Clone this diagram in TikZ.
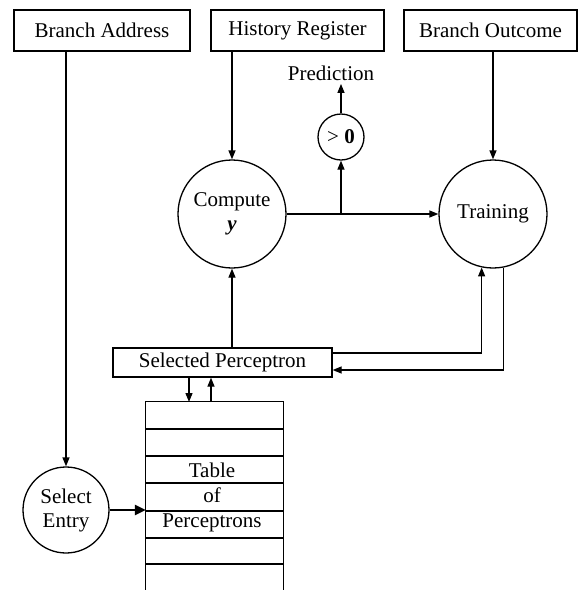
\documentclass[tikz,border=0pt]{standalone}
\usepackage{fontspec}
\setmainfont{Liberation Serif}
\usetikzlibrary{arrows.meta,calc}
\begin{document}
\begin{tikzpicture}[x=1pt,y=-1pt,
  every node/.style={font=\fontsize{21}{25}\selectfont},
  box/.style={draw,line width=1.3pt,rectangle,inner sep=0pt},
  circ/.style={draw,line width=1.3pt,circle,inner sep=0pt,align=center},
  conn/.style={line width=1.3pt},
  arr/.style={conn,-{Triangle[length=9pt,width=7pt]}},
  thickarr/.style={line width=2.8pt,-{Triangle[length=11pt,width=10pt]}}]
\fill[white] (0,0) rectangle (580,590);
\useasboundingbox (0,0) rectangle (580,590);
% boxes
\node[box,minimum width=176pt,minimum height=41pt] (ba) at (102,30.5) {Branch Address};
\node[box,minimum width=173pt,minimum height=41pt] (hr) at (297.5,30.5) {History Register};
\node[box,minimum width=173pt,minimum height=41pt] (bo) at (490.5,30.5) {Branch Outcome};
% circles
\node[circ,minimum size=108pt] (comp) at (232,214) {Compute\\[-1pt]\textbf{\textit{y}}};
\node[circ,minimum size=108pt] (train) at (493,214) {Training};
\node[circ,minimum size=46pt] (gt) at (341,137) {> \textbf{0}};
\node (pred) at (331,73) {Prediction};
\node[box,minimum width=219pt,minimum height=29pt] (sp) at (222.5,362.5) {Selected Perceptron};
\node[circ,minimum size=86pt] (sel) at (66,510) {Select\\[-1pt]Entry};
% table
\node[minimum width=137pt,minimum height=188pt,inner sep=0pt] (table) at (214.5,496) {};
\draw[conn] (table.south west) -- (table.north west) -- (table.north east) -- (table.south east);
\foreach \yy in {429,456,483,511,538,564}
  \draw[conn] (table.west |- 0,\yy) -- (table.east |- 0,\yy);
\node[align=center,inner sep=0pt] (ttext) at (212,497) {Table\\of\\Perceptrons};
% connectors
\draw[arr] (sel.north |- ba.south) -- (sel.north);
\draw[arr] (comp.north |- hr.south) -- (comp.north);
\draw[arr] (train.north |- bo.south) -- (train.north);
\coordinate (br) at (gt.south |- comp.east);
\draw[arr] (comp.east) -- (train.west);
\draw[arr] (br) -- (gt.south);
\draw[arr] (gt.north) -- (gt.north |- pred.south);
\draw[arr] (comp.south |- sp.north) -- (comp.south);
\draw[arr] ([yshift=9.5pt]sp.east) -| (train.258);
\draw[arr] (train.281) |- ([yshift=-7.5pt]sp.east);
\coordinate (ta) at (189,402);
\coordinate (tb) at (211,402);
\draw[arr] (sp.south -| ta) -- (ta);
\draw[arr] (tb) -- (sp.south -| tb);
\draw[thickarr] (sel.east) -- (sel.east -| table.west);
\end{tikzpicture}
\end{document}
